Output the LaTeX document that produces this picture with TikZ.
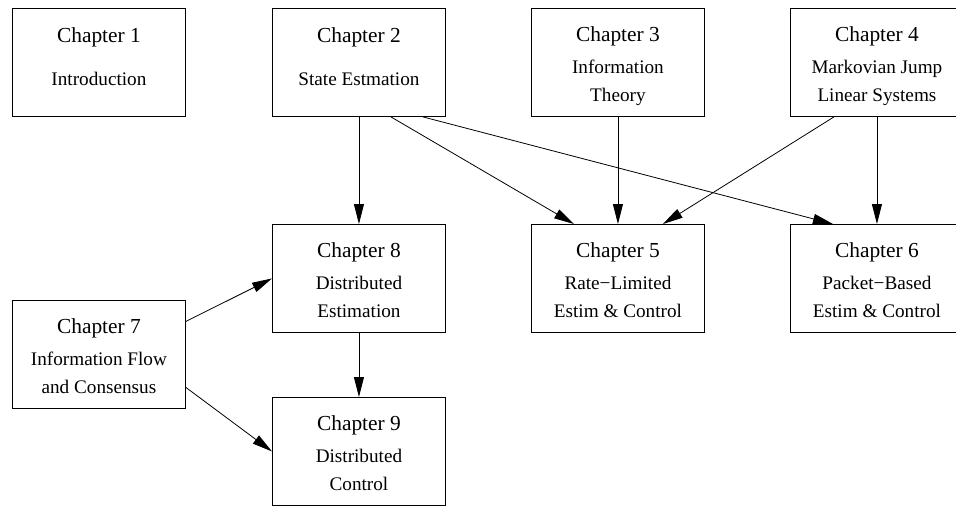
\documentclass[tikz,border=0pt]{standalone}
\usepackage{fontspec}
\setmainfont{Liberation Serif}
\usetikzlibrary{arrows.meta,calc}
\tikzset{
  chbox/.style={draw, line width=0.9pt, rectangle, minimum width=173pt, minimum height=108pt, inner sep=0pt, anchor=north west},
  ttl/.style={anchor=base, inner sep=0pt, font=\fontsize{21.4}{24}\selectfont},
  sub/.style={anchor=base, inner sep=0pt, font=\fontsize{19.2}{22}\selectfont},
  conn/.style={line width=0.8pt, -{Triangle[length=20pt,width=10pt]}}
}
\begin{document}
\begin{tikzpicture}[x=1pt,y=-1pt]
\useasboundingbox (0,0) rectangle (956,506);
\clip (0,0) rectangle (956,506);
% boxes
\node[chbox] (ch1) at (12,8) {};
\node[chbox] (ch2) at (272,8) {};
\node[chbox] (ch3) at (531,8) {};
\node[chbox] (ch4) at (790,8) {};
\node[chbox] (ch8) at (272,224) {};
\node[chbox] (ch5) at (531,224) {};
\node[chbox] (ch6) at (790,224) {};
\node[chbox] (ch7) at (12,300) {};
\node[chbox] (ch9) at (272,397) {};
% two-line texts
\node[ttl] (t1a) at ($(ch1.north)+(0,34)$) {Chapter 1};
\node[sub] (t1b) at ($(ch1.north)+(0,77)$) {Introduction};
\node[ttl] (t2a) at ($(ch2.north)+(0,34)$) {Chapter 2};
\node[sub] (t2b) at ($(ch2.north)+(0,77)$) {State Estmation};
% three-line texts
\node[ttl] (t3a) at ($(ch3.north)+(0,33)$) {Chapter 3};
\node[sub] (t3b) at ($(ch3.north)+(0,65)$) {Information};
\node[sub] (t3c) at ($(ch3.north)+(0,93)$) {Theory};
\node[ttl] (t4a) at ($(ch4.north)+(0,33)$) {Chapter 4};
\node[sub] (t4b) at ($(ch4.north)+(0,65)$) {Markovian Jump};
\node[sub] (t4c) at ($(ch4.north)+(0,93)$) {Linear Systems};
\node[ttl] (t8a) at ($(ch8.north)+(0,33)$) {Chapter 8};
\node[sub] (t8b) at ($(ch8.north)+(0,65)$) {Distributed};
\node[sub] (t8c) at ($(ch8.north)+(0,93)$) {Estimation};
\node[ttl] (t5a) at ($(ch5.north)+(0,33)$) {Chapter 5};
\node[sub] (t5b) at ($(ch5.north)+(0,65)$) {Rate−Limited};
\node[sub] (t5c) at ($(ch5.north)+(0,93)$) {Estim \& Control};
\node[ttl] (t6a) at ($(ch6.north)+(0,33)$) {Chapter 6};
\node[sub] (t6b) at ($(ch6.north)+(0,65)$) {Packet−Based};
\node[sub] (t6c) at ($(ch6.north)+(0,93)$) {Estim \& Control};
\node[ttl] (t7a) at ($(ch7.north)+(0,33)$) {Chapter 7};
\node[sub] (t7b) at ($(ch7.north)+(0,65)$) {Information Flow};
\node[sub] (t7c) at ($(ch7.north)+(0,93)$) {and Consensus};
\node[ttl] (t9a) at ($(ch9.north)+(0,33)$) {Chapter 9};
\node[sub] (t9b) at ($(ch9.north)+(0,65)$) {Distributed};
\node[sub] (t9c) at ($(ch9.north)+(0,93)$) {Control};
% connectors
\draw[conn] (ch2.south) -- (ch8.north);
\draw[conn] ($(ch2.south)+(32,0)$) -- ($(ch5.north)+(-44,0)$);
\draw[conn] ($(ch2.south)+(64,0)$) -- ($(ch6.north)+(-44,0)$);
\draw[conn] (ch3.south) -- (ch5.north);
\draw[conn] ($(ch4.south)+(-43,0)$) -- ($(ch5.north)+(45,0)$);
\draw[conn] (ch4.south) -- (ch6.north);
\draw[conn] ($(ch7.east)+(0,-33)$) -- (ch8.west);
\draw[conn] ($(ch7.east)+(0,33)$) -- (ch9.west);
\draw[conn] (ch8.south) -- (ch9.north);
\end{tikzpicture}
\end{document}
